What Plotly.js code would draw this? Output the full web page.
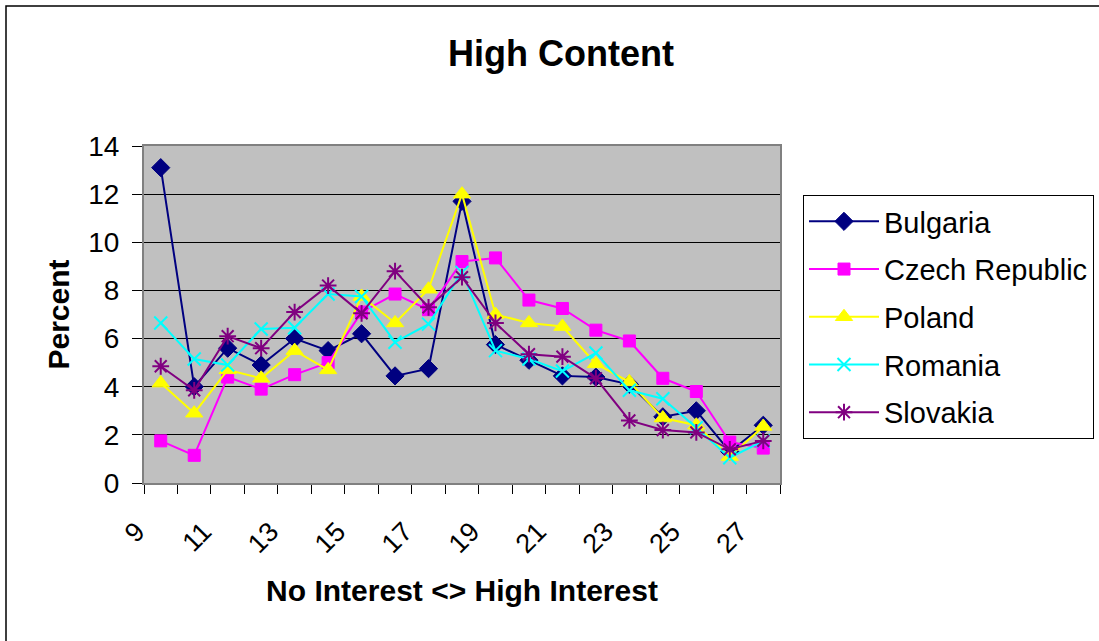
<!DOCTYPE html>
<html>
<head>
<meta charset="utf-8">
<script src="https://cdn.plot.ly/plotly-3.0.1.min.js"></script>
<style>html,body{margin:0;padding:0;background:#fff;}#chart{width:1099px;height:641px;}</style>
</head>
<body>
<div id="chart"></div>
<script>
const categories = [9,10,11,12,13,14,15,16,17,18,19,20,21,22,23,24,25,26,27];
const bulgaria = [13.1,4.0,5.6,4.9,6.0,5.5,6.2,4.45,4.75,11.7,5.75,5.1,4.45,4.4,4.1,2.75,3.0,1.3,2.4];
const czech    = [1.75,1.15,4.4,3.9,4.5,5.0,7.1,7.85,7.2,9.2,9.35,7.6,7.25,6.35,5.9,4.35,3.8,1.7,1.45];
const poland   = [4.15,2.9,4.7,4.35,5.5,4.7,7.75,6.65,8.05,12.0,7.0,6.65,6.5,4.95,4.2,2.7,2.4,1.1,2.35];
const romania  = [6.65,5.15,4.9,6.4,6.45,7.85,7.75,5.85,6.6,8.75,5.5,5.15,4.65,5.4,3.85,3.5,2.3,1.05,1.75];
const slovakia = [4.85,3.85,6.1,5.6,7.1,8.2,7.05,8.8,7.3,8.55,6.65,5.35,5.25,4.35,2.6,2.2,2.1,1.4,1.75];
const yTicks = [0,2,4,6,8,10,12,14];

const cats = categories.map(String);
const tickText = categories.map((c,i)=> i%2===0 ? String(c) : '');

function tr(name, y, color, symbol, size, lw){
  return {
    type:'scatter', mode:'lines+markers', name:name, x:cats, y:y,
    legendgroup:name,
    line:{color:color, width:2},
    marker:{color:color, symbol:symbol, size:size, line:{color:color, width:lw}}
  };
}
const data = [
  tr('Bulgaria', bulgaria, '#000080', 'diamond', 14, 1),
  tr('Czech Republic', czech, '#FF00FF', 'square', 12, 1),
  tr('Poland', poland, '#FFFF00', 'triangle-up', 15, 1),
  tr('Romania', romania, '#00FFFF', 'x-thin-open', 13, 2),
  tr('Slovakia', slovakia, '#800080', 'asterisk-open', 14, 2)
];

const L=144, R=780, T=146, B=483, W=1099, H=641;
const px = v => (v-L)/(R-L);
const py = v => (B-v)/(B-T);

const layout = {
  width:W, height:H,
  margin:{l:L, r:W-R, t:T, b:H-B, pad:0, autoexpand:false},
  paper_bgcolor:'#ffffff',
  plot_bgcolor:'#C0C0C0',
  font:{family:'Liberation Sans, Arial, sans-serif', color:'#000'},
  showlegend:true,
  title:{text:'<b>High Content</b>', font:{size:36, color:'#000'}, xref:'container', yref:'container', x:561/W, y:1-53/H, xanchor:'center', yanchor:'middle'},
  xaxis:{
    type:'category', range:[-0.5,18.5], tickvals:cats, ticktext:tickText,
    tickson:'boundaries', ticks:'outside', ticklen:9, tickcolor:'#000', tickwidth:1,
    tickangle:-45, tickfont:{size:27}, ticklabelshift:-24, ticklabelstandoff:20,
    showgrid:false, showline:true, linecolor:'#808080', linewidth:2, mirror:true,
    zeroline:false, fixedrange:true,
    title:{text:'<b>No Interest &lt;&gt; High Interest</b>', font:{size:30}, standoff:22}
  },
  yaxis:{
    range:[0,14], tickvals:yTicks, ticks:'outside', ticklen:10, tickcolor:'#000', tickwidth:1,
    tickfont:{size:28}, ticklabelstandoff:7, showgrid:true, gridcolor:'#000', gridwidth:1,
    showline:true, linecolor:'#808080', linewidth:2, mirror:true, zeroline:false,
    title:{text:'<b>Percent</b>', font:{size:30}, standoff:10}
  },
  legend:{
    x:px(803), y:py(195), xanchor:'left', yanchor:'top',
    bgcolor:'#fff', bordercolor:'#000', borderwidth:1,
    font:{size:29}, tracegroupgap:7, traceorder:'grouped', itemwidth:70
  },
  shapes:[{type:'rect', xref:'paper', yref:'paper', x0:px(6), x1:px(1110), y0:py(650), y1:py(6), line:{color:'#000', width:1.5}, fillcolor:'rgba(0,0,0,0)', layer:'below'}]
};

Plotly.newPlot('chart', data, layout, {staticPlot:true, displayModeBar:false});
</script>
</body>
</html>
